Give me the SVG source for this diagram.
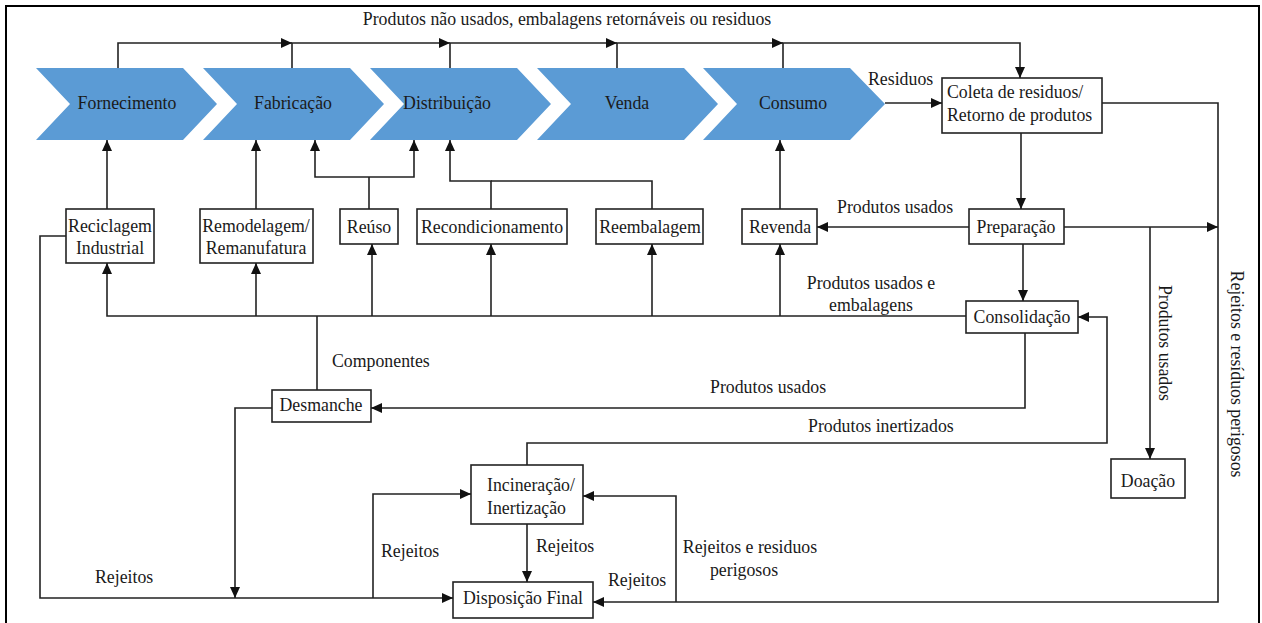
<svg xmlns="http://www.w3.org/2000/svg" width="1262" height="623" viewBox="0 0 1262 623" font-family="Liberation Serif, DejaVu Serif, serif" font-size="17.8">
<style>
text{fill:#1a1a1a}
.m{text-anchor:middle}
.chev{fill:#5B9BD5}
.box{fill:#fff;stroke:#222;stroke-width:1.6}
.c path{fill:none;stroke:#222;stroke-width:1.6}
.a{marker-end:url(#arr)}
</style>
<defs>
<marker id="arr" markerUnits="userSpaceOnUse" markerWidth="12" markerHeight="10" refX="11" refY="5" orient="auto">
<path d="M0,0 L11,5 L0,10 z" fill="#111"/>
</marker>
</defs>
<rect x="0" y="0" width="1262" height="623" fill="#fff"/>
<path d="M6,630 V6 H1259 V630" fill="none" stroke="#000" stroke-width="2"/>

<g id="fornecimento"><polygon class="chev" points="36,68 183,68 217,104 183,140 36,140 70,104"/><text class="m" x="127" y="109">Fornecimento</text></g>
<g id="fabricacao"><polygon class="chev" points="203,68 350,68 384,104 350,140 203,140 237,104"/><text class="m" x="293" y="109">Fabricação</text></g>
<g id="distribuicao"><polygon class="chev" points="370,68 517,68 551,104 517,140 370,140 404,104"/><text class="m" x="447" y="109">Distribuição</text></g>
<g id="venda"><polygon class="chev" points="537,68 684,68 718,104 684,140 537,140 571,104"/><text class="m" x="627" y="109">Venda</text></g>
<g id="consumo"><polygon class="chev" points="703,68 850,68 885,104 850,140 703,140 737,104"/><text class="m" x="793" y="109">Consumo</text></g>

<g id="coleta"><rect class="box" x="942" y="78" width="160" height="55"/><text x="947" y="98">Coleta de residuos/</text><text x="947" y="121">Retorno de produtos</text></g>
<g id="reciclagem"><rect class="box" x="66" y="209" width="88" height="54"/><text class="m" x="110" y="232">Reciclagem</text><text class="m" x="110" y="254">Industrial</text></g>
<g id="remodelagem"><rect class="box" x="200" y="209" width="113" height="54"/><text class="m" x="256" y="232">Remodelagem/</text><text class="m" x="256" y="254">Remanufatura</text></g>
<g id="reuso"><rect class="box" x="340" y="209" width="58" height="35"/><text class="m" x="369" y="233">Reúso</text></g>
<g id="recondicionamento"><rect class="box" x="417" y="209" width="150" height="35"/><text class="m" x="492" y="233">Recondicionamento</text></g>
<g id="reembalagem"><rect class="box" x="596" y="209" width="107" height="35"/><text class="m" x="650" y="233">Reembalagem</text></g>
<g id="revenda"><rect class="box" x="742" y="209" width="75" height="35"/><text class="m" x="780" y="233">Revenda</text></g>
<g id="preparacao"><rect class="box" x="969" y="209" width="95" height="35"/><text class="m" x="1016" y="233">Preparação</text></g>
<g id="consolidacao"><rect class="box" x="966" y="301" width="112" height="32"/><text class="m" x="1022" y="323">Consolidação</text></g>
<g id="desmanche"><rect class="box" x="272" y="390" width="99" height="32"/><text class="m" x="321" y="411">Desmanche</text></g>
<g id="incineracao"><rect class="box" x="471" y="465" width="112" height="59"/><text x="487" y="491">Incineração/</text><text x="487" y="514">Inertização</text></g>
<g id="disposicao"><rect class="box" x="453" y="582" width="140" height="36"/><text class="m" x="523" y="604">Disposição Final</text></g>
<g id="doacao"><rect class="box" x="1111" y="459" width="74" height="39"/><text class="m" x="1148" y="487">Doação</text></g>

<g id="connectors" class="c">
<path class="a" d="M118,68 V43 H292"/>
<path class="a" d="M292,68 V43 H450"/>
<path class="a" d="M450,68 V43 H617"/>
<path class="a" d="M617,68 V43 H783"/>
<path class="a" d="M783,68 V43 H1020 V78"/>
<path class="a" d="M885,103 H942"/>
<path class="a" d="M1102,103 H1218 V602 H593"/>
<path class="a" d="M1021,133 V209"/>
<path class="a" d="M1064,227 H1218"/>
<path class="a" d="M1150,227 V459"/>
<path class="a" d="M969,227 H817"/>
<path class="a" d="M1023,244 V301"/>
<path class="a" d="M966,316 H107 V263"/>
<path class="a" d="M256,316 V263"/>
<path class="a" d="M372,316 V244"/>
<path class="a" d="M491,316 V244"/>
<path class="a" d="M652,316 V244"/>
<path class="a" d="M780,316 V244"/>
<path d="M317,316 V390"/>
<path class="a" d="M107,209 V140"/>
<path class="a" d="M256,209 V140"/>
<path d="M369,209 V177"/>
<path class="a" d="M369,177 H315 V140"/>
<path class="a" d="M369,177 H414 V140"/>
<path class="a" d="M491,209 V181 H450 V140"/>
<path d="M491,181 H652 V209"/>
<path class="a" d="M780,209 V140"/>
<path class="a" d="M66,236 H40 V598 H453"/>
<path class="a" d="M1025,333 V408 H371"/>
<path class="a" d="M272,408 H235 V598"/>
<path class="a" d="M373,598 V494 H471"/>
<path class="a" d="M527,524 V582"/>
<path class="a" d="M527,465 V443 H1107 V317 H1078"/>
<path class="a" d="M676,602 V496 H583"/>
</g>

<g id="labels">
<text class="m" x="567" y="25">Produtos não usados, embalagens retornáveis ou residuos</text>
<text x="868" y="85">Residuos</text>
<text x="837" y="213">Produtos usados</text>
<text class="m" x="871" y="289">Produtos usados e</text>
<text class="m" x="871" y="311">embalagens</text>
<text x="332" y="367">Componentes</text>
<text x="710" y="393">Produtos usados</text>
<text x="808" y="432">Produtos inertizados</text>
<text x="536" y="552">Rejeitos</text>
<text x="381" y="557">Rejeitos</text>
<text x="95" y="583">Rejeitos</text>
<text x="608" y="586">Rejeitos</text>
<text class="m" x="750" y="553">Rejeitos e residuos</text>
<text class="m" x="744" y="576">perigosos</text>
<text class="m" transform="translate(1159,343) rotate(90)">Produtos usados</text>
<text class="m" transform="translate(1231,374) rotate(90)">Rejeitos e resíduos perigosos</text>
</g>
</svg>
